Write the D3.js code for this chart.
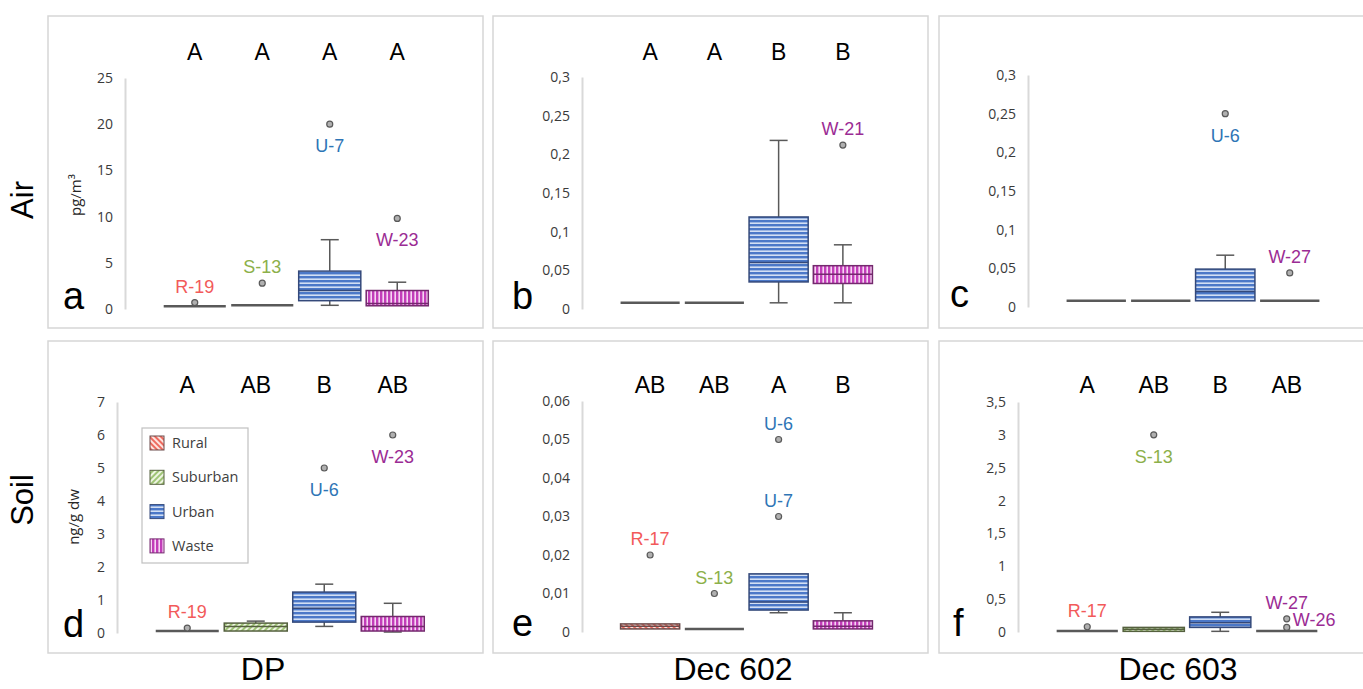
<!DOCTYPE html>
<html>
<head>
<meta charset="utf-8">
<script src="https://cdn.jsdelivr.net/npm/d3@7"></script>
<style>
  body { margin: 0; background: #fff; }
  svg { display: block; font-family: "Liberation Sans", Arial, sans-serif; }
  .frame { fill: none; stroke: #d6d6d6; stroke-width: 1.5; }
  .tick text { font-family: "Open Sans", sans-serif; font-size: 14px; fill: #3a3a3a; }
  .domain { stroke: #d9d9d9; stroke-width: 2; }
  .whisker { stroke: #595959; stroke-width: 1.5; }
  .outlier { fill: #b0b0b0; stroke: #595959; stroke-width: 1.2; }
</style>
</head>
<body>
<svg id="chart" width="1363" height="689"></svg>
<script>
const categories = ["Rural", "Suburban", "Urban", "Waste"];
const media = ["Air", "Soil"];
const compounds = ["DP", "Dec 602", "Dec 603"];
const units = ["pg/m³", "ng/g dw"];

// [low whisker, q1, median, q3, high whisker] per category
const statsA = [[0.3, 0.3, 0.3, 0.3, 0.3], [0.4, 0.4, 0.4, 0.4, 0.4], [0.4, 0.9, 2.0, 4.1, 7.5], [0.35, 0.35, 0.6, 2.0, 2.9]];
const statsB = [[0.008, 0.008, 0.008, 0.008, 0.008], [0.008, 0.008, 0.008, 0.008, 0.008], [0.008, 0.035, 0.06, 0.119, 0.218], [0.008, 0.033, 0.045, 0.056, 0.083]];
const statsC = [[0.008, 0.008, 0.008, 0.008, 0.008], [0.008, 0.008, 0.008, 0.008, 0.008], [0.008, 0.008, 0.02, 0.049, 0.067], [0.008, 0.008, 0.008, 0.008, 0.008]];
const statsD = [[0.06, 0.06, 0.06, 0.06, 0.06], [0.06, 0.06, 0.2, 0.3, 0.36], [0.2, 0.33, 0.75, 1.24, 1.48], [0.03, 0.06, 0.2, 0.5, 0.9]];
const statsE = [[0.0008, 0.0008, 0.0015, 0.0021, 0.0021], [0.0008, 0.0008, 0.0008, 0.0008, 0.0008], [0.005, 0.0057, 0.0078, 0.0151, 0.0151], [0.0008, 0.0008, 0.0015, 0.0029, 0.005]];
const statsF = [[0.015, 0.015, 0.015, 0.015, 0.015], [0.01, 0.01, 0.04, 0.07, 0.07], [0.01, 0.07, 0.14, 0.23, 0.3], [0.015, 0.015, 0.015, 0.015, 0.015]];

// outliers: [category index, value, sample id, label side]
const outA = [[0, 0.7, "R-19", "above"], [1, 2.8, "S-13", "above"], [2, 20, "U-7", "below"], [3, 9.8, "W-23", "below"]];
const outB = [[3, 0.212, "W-21", "above"]];
const outC = [[2, 0.25, "U-6", "below"], [3, 0.044, "W-27", "above"]];
const outD = [[0, 0.15, "R-19", "above"], [2, 5.0, "U-6", "below"], [3, 6.0, "W-23", "below"]];
const outE = [[0, 0.02, "R-17", "above"], [1, 0.01, "S-13", "above"], [2, 0.05, "U-6", "above"], [2, 0.03, "U-7", "above"]];
const outF = [[0, 0.08, "R-17", "above"], [1, 3.0, "S-13", "below"], [3, 0.2, "W-27", "above"], [3, 0.07, "W-26", "right"]];

const ticksA = [0, 5, 10, 15, 20, 25];
const ticksB = [0, 0.05, 0.1, 0.15, 0.2, 0.25, 0.3];
const ticksC = [0, 0.05, 0.1, 0.15, 0.2, 0.25, 0.3];
const ticksD = [0, 1, 2, 3, 4, 5, 6, 7];
const ticksE = [0, 0.01, 0.02, 0.03, 0.04, 0.05, 0.06];
const ticksF = [0, 0.5, 1, 1.5, 2, 2.5, 3, 3.5];

const lettersA = ["A", "A", "A", "A"];
const lettersB = ["A", "A", "B", "B"];
const lettersC = [];
const lettersD = ["A", "AB", "B", "AB"];
const lettersE = ["AB", "AB", "A", "B"];
const lettersF = ["A", "AB", "B", "AB"];

const labelColor = { Rural: "#f25a5a", Suburban: "#8cb04a", Urban: "#2e75b6", Waste: "#9b2c94" };
const boxStroke = { Rural: "#6a4b4b", Suburban: "#55603f", Urban: "#34497a", Waste: "#74296e" };

// layout
const frameX = [48, 493, 939], frameW = [435, 435, 440];
const frameY = [16, 341], frameH = 312;
const panels = [
  { id: "a", row: 0, col: 0, stats: statsA, out: outA, ticks: ticksA, letters: lettersA, ax: 125, bw: 270, y0: 309, y1: 78, lx: 63 },
  { id: "b", row: 0, col: 1, stats: statsB, out: outB, ticks: ticksB, letters: lettersB, ax: 582, bw: 257, y0: 309, y1: 77, lx: 512 },
  { id: "c", row: 0, col: 2, stats: statsC, out: outC, ticks: ticksC, letters: lettersC, ax: 1028, bw: 258, y0: 307, y1: 75, lx: 950 },
  { id: "d", row: 1, col: 0, stats: statsD, out: outD, ticks: ticksD, letters: lettersD, ax: 117, bw: 274, y0: 633, y1: 402, lx: 63 },
  { id: "e", row: 1, col: 1, stats: statsE, out: outE, ticks: ticksE, letters: lettersE, ax: 582, bw: 257, y0: 632, y1: 401, lx: 512 },
  { id: "f", row: 1, col: 2, stats: statsF, out: outF, ticks: ticksF, letters: lettersF, ax: 1018, bw: 266, y0: 632, y1: 402, lx: 953 }
];

const fmt = d3.formatLocale({ decimal: ",", thousands: ".", grouping: [3], currency: ["", ""] }).format("~g");
const svg = d3.select("#chart");

// hatch patterns
const defs = svg.append("defs");
function hatch(id, bg, fg, angle, size, band) {
  const p = defs.append("pattern").attr("id", id)
    .attr("patternUnits", "userSpaceOnUse")
    .attr("width", size).attr("height", size)
    .attr("patternTransform", `rotate(${angle})`);
  p.append("rect").attr("width", size).attr("height", size).attr("fill", bg);
  p.append("rect").attr("width", band).attr("height", size).attr("fill", fg);
}
hatch("p-Rural", "#fde3df", "#ee6a5e", -45, 4, 2);
hatch("p-Suburban", "#eef5e2", "#9fc476", 45, 4, 2);
hatch("p-Urban", "#d2dff4", "#4b78c8", 90, 4, 2.4);
hatch("p-Waste", "#f6d6f3", "#c23db9", 0, 4, 2.4);

// frames
frameY.forEach(fy => frameX.forEach((fx, i) => {
  svg.append("rect").attr("class", "frame").attr("x", fx).attr("y", fy).attr("width", frameW[i]).attr("height", frameH);
}));

panels.forEach(p => {
  const g = svg.append("g");
  const y = d3.scaleLinear().domain([0, p.ticks[p.ticks.length - 1]]).range([p.y0, p.y1]);
  const x = d3.scaleBand().domain(categories).range([p.ax + 36, p.ax + 36 + p.bw]).paddingInner(0.08).paddingOuter(0.04);
  const cx = c => x(c) + x.bandwidth() / 2;

  g.append("g").attr("transform", `translate(${p.ax},0)`)
    .call(d3.axisLeft(y).tickValues(p.ticks).tickSize(0).tickSizeOuter(0).tickPadding(12).tickFormat(fmt));

  // panel letter
  g.append("text").attr("x", p.lx).attr("y", p.y0 + (p.row ? 4 : 0))
    .attr("font-size", 38).text(p.id);

  // group letters
  g.selectAll(".grp").data(p.letters).join("text")
    .attr("x", (d, i) => cx(categories[i]))
    .attr("y", p.row ? 393 : 60)
    .attr("text-anchor", "middle").attr("font-size", 23).text(d => d);

  p.stats.forEach((s, i) => {
    const c = categories[i], xc = cx(c), w = x.bandwidth();
    const [lo, q1, med, q3, hi] = s;
    g.append("line").attr("class", "whisker").attr("x1", xc).attr("x2", xc).attr("y1", y(hi)).attr("y2", y(q3));
    g.append("line").attr("class", "whisker").attr("x1", xc).attr("x2", xc).attr("y1", y(lo)).attr("y2", y(q1));
    if (hi > q3) g.append("line").attr("class", "whisker").attr("x1", xc - 9).attr("x2", xc + 9).attr("y1", y(hi)).attr("y2", y(hi));
    if (lo < q1) g.append("line").attr("class", "whisker").attr("x1", xc - 9).attr("x2", xc + 9).attr("y1", y(lo)).attr("y2", y(lo));
    const h = y(q1) - y(q3);
    if (h < 1.5) {
      g.append("line").attr("x1", xc - w / 2).attr("x2", xc + w / 2).attr("y1", y(q1)).attr("y2", y(q1))
        .attr("stroke", "#595959").attr("stroke-width", 2.5);
    } else {
      g.append("rect").attr("x", xc - w / 2).attr("y", y(q3)).attr("width", w).attr("height", h)
        .attr("fill", `url(#p-${c})`).attr("stroke", boxStroke[c]).attr("stroke-width", 1.5);
      g.append("line").attr("x1", xc - w / 2).attr("x2", xc + w / 2).attr("y1", y(med)).attr("y2", y(med))
        .attr("stroke", boxStroke[c]).attr("stroke-width", 1.5);
    }
  });

  p.out.forEach(([ci, v, name, side]) => {
    const c = categories[ci], xc = cx(c), py = y(v);
    g.append("circle").attr("class", "outlier").attr("cx", xc).attr("cy", py).attr("r", 3);
    const t = g.append("text").attr("font-size", 18).attr("fill", labelColor[c]).text(name);
    if (side === "above") t.attr("x", xc).attr("y", py - 10).attr("text-anchor", "middle");
    else if (side === "below") t.attr("x", xc).attr("y", py + 28).attr("text-anchor", "middle");
    else t.attr("x", xc + 6).attr("y", py - 1).attr("text-anchor", "start");
  });
});

// unit titles
[[76, 195], [74, 517]].forEach(([ux, uy], i) => {
  svg.append("text").attr("transform", `translate(${ux},${uy}) rotate(-90)`)
    .attr("text-anchor", "middle").attr("dy", "0.35em")
    .attr("font-family", "Open Sans, sans-serif").attr("font-size", 15).attr("fill", "#262626")
    .text(units[i]);
});

// row labels
[200, 500].forEach((ry, i) => {
  svg.append("text").attr("transform", `translate(22,${ry}) rotate(-90)`)
    .attr("text-anchor", "middle").attr("dy", "0.35em").attr("font-size", 31).text(media[i]);
});

// column labels
[263, 733, 1178].forEach((cxl, i) => {
  svg.append("text").attr("x", cxl).attr("y", 680).attr("text-anchor", "middle")
    .attr("font-size", 32).text(compounds[i]);
});

// legend inside panel d
const lg = svg.append("g");
lg.append("rect").attr("x", 142).attr("y", 428).attr("width", 106).attr("height", 135)
  .attr("fill", "#fff").attr("stroke", "#c0c0c0").attr("stroke-width", 1.2);
categories.forEach((c, i) => {
  const ly = 443 + i * 34.3;
  lg.append("rect").attr("x", 150).attr("y", ly - 7).attr("width", 14).attr("height", 14)
    .attr("fill", `url(#p-${c})`).attr("stroke", boxStroke[c]).attr("stroke-width", 1);
  lg.append("text").attr("x", 172).attr("y", ly).attr("dy", "0.35em")
    .attr("font-family", "Open Sans, sans-serif").attr("font-size", 14.5).attr("fill", "#404040").text(c);
});
</script>
</body>
</html>
